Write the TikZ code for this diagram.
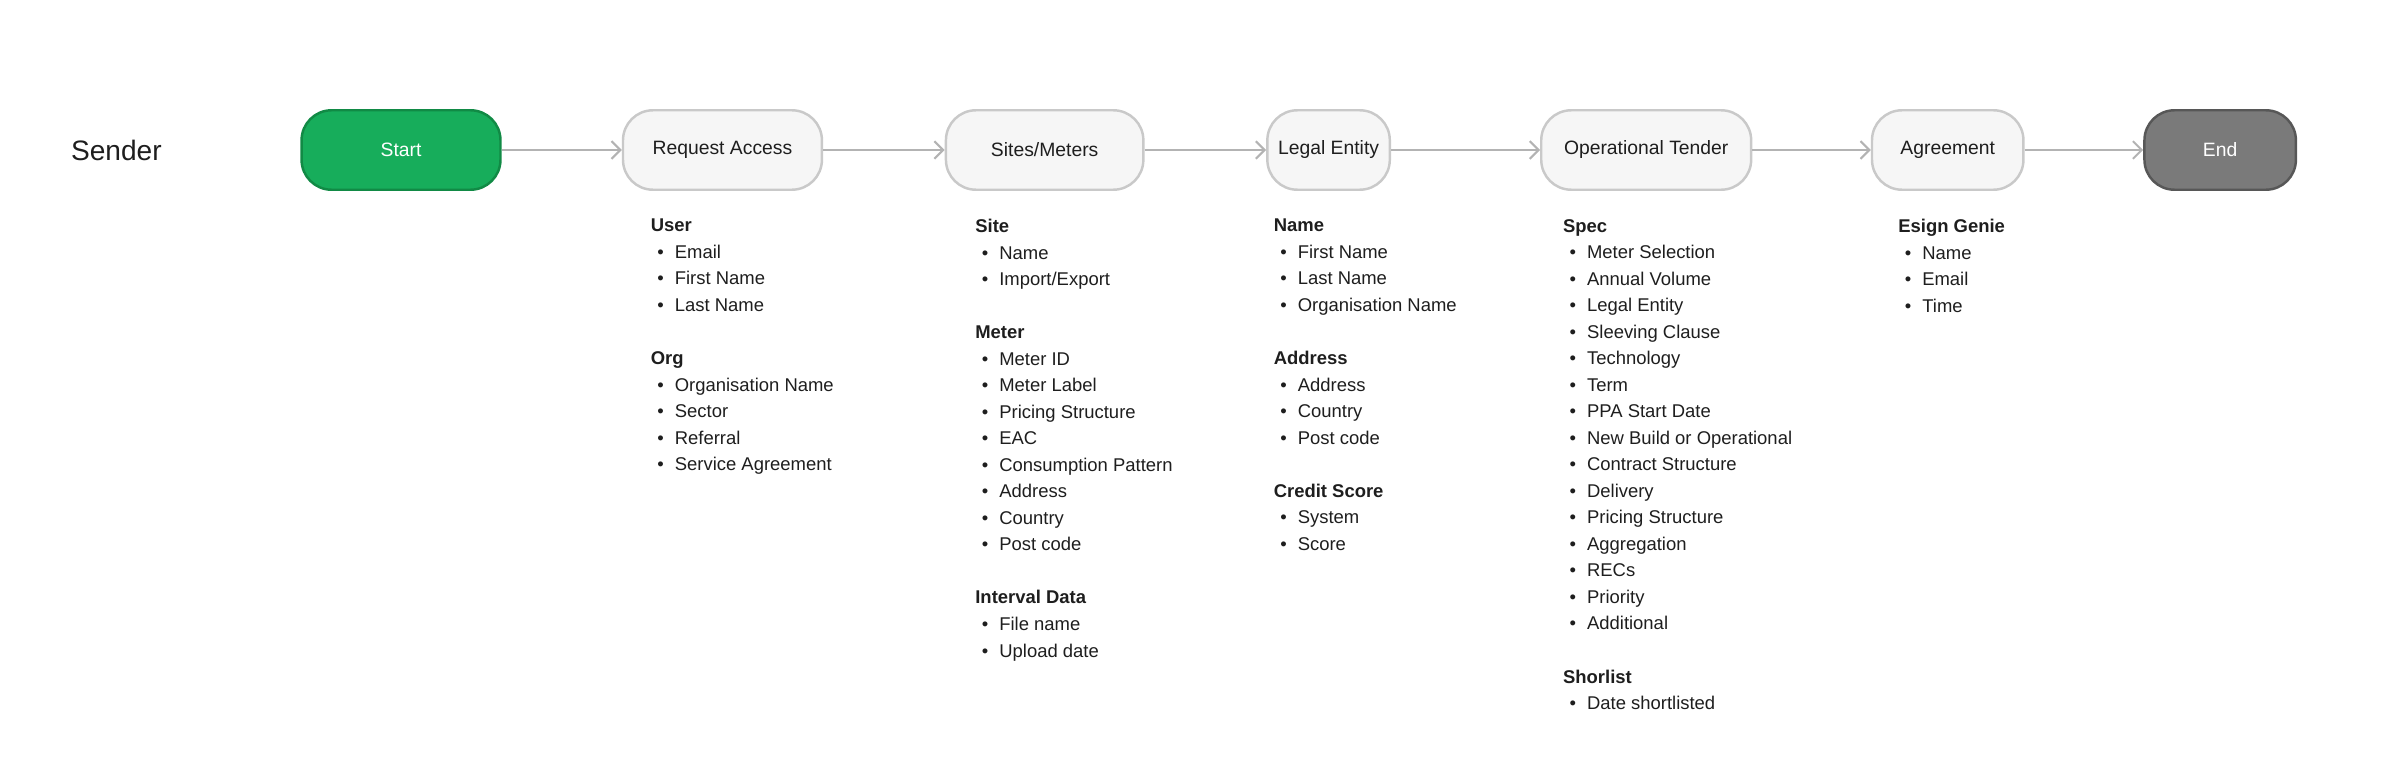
\documentclass[tikz,border=0pt]{standalone}
\usepackage{fontspec}
\setmainfont{Liberation Sans}
\usetikzlibrary{arrows.meta}
\definecolor{startgreen}{HTML}{17AD5B}
\definecolor{startedge}{HTML}{118A45}
\definecolor{stepfill}{HTML}{F6F6F6}
\definecolor{stepedge}{HTML}{C9C9C9}
\definecolor{endfill}{HTML}{7A7A7A}
\definecolor{endedge}{HTML}{575757}
\definecolor{flowgray}{HTML}{B3B3B3}
\definecolor{txt}{HTML}{1E1E1E}
\newcommand{\itm}[1]{\hspace*{0.35em}\textbullet\hspace{0.6em}#1}
\tikzset{
  stepbox/.style={rectangle, rounded corners=0.6cm, draw=stepedge, fill=stepfill, line width=1.4pt,
    minimum height=1.59cm, font=\fontsize{11}{13}\selectfont, text=txt},
  startbox/.style={stepbox, draw=startedge, fill=startgreen, text=white},
  stopbox/.style={stepbox, draw=endedge, fill=endfill, text=white},
  flow/.style={draw=flowgray, line width=1.2pt, -{Straight Barb[length=5pt,width=10pt]}},
  info/.style={anchor=north west, align=left, inner sep=0pt, text=txt,
    font=\fontsize{10.5}{15.1}\selectfont}
}
\begin{document}
\begin{tikzpicture}[x=0.03062cm,y=-0.03062cm]
\useasboundingbox (0,0) rectangle (1568,495);
% row label
\node[text=txt, font=\fontsize{16}{18}\selectfont] (sender) at (76,98) {Sender};
% steps
\node[startbox, minimum width=3.98cm] (start) at (262,98) {Start};
\node[stepbox, minimum width=3.98cm] (req) at (472,98) {Request Access};
\node[stepbox, minimum width=3.95cm] (sites) at (682.5,98) {Sites/Meters};
\node[stepbox, minimum width=2.45cm] (legal) at (868,98) {Legal Entity};
\node[stepbox, minimum width=4.2cm] (tender) at (1075.5,98) {Operational Tender};
\node[stepbox, minimum width=3.03cm] (agree) at (1272.5,98) {Agreement};
\node[stopbox, minimum width=3.03cm] (end) at (1450.5,98) {End};
% connectors
\draw[flow] (start) -- (req);
\draw[flow] (req) -- (sites);
\draw[flow] (sites) -- (legal);
\draw[flow] (legal) -- (tender);
\draw[flow] (tender) -- (agree);
\draw[flow] (agree) -- (end);
% field lists
\node[info] (reqinfo) at (425,143) {\textbf{User}\\ \itm{Email}\\ \itm{First Name}\\ \itm{Last Name}\\[15.1pt]
  \textbf{Org}\\ \itm{Organisation Name}\\ \itm{Sector}\\ \itm{Referral}\\ \itm{Service Agreement}};
\node[info] (sitesinfo) at (637,143) {\textbf{Site}\\ \itm{Name}\\ \itm{Import/Export}\\[15.1pt]
  \textbf{Meter}\\ \itm{Meter ID}\\ \itm{Meter Label}\\ \itm{Pricing Structure}\\ \itm{EAC}\\ \itm{Consumption Pattern}\\ \itm{Address}\\ \itm{Country}\\ \itm{Post code}\\[15.1pt]
  \textbf{Interval Data}\\ \itm{File name}\\ \itm{Upload date}};
\node[info] (legalinfo) at (832,143) {\textbf{Name}\\ \itm{First Name}\\ \itm{Last Name}\\ \itm{Organisation Name}\\[15.1pt]
  \textbf{Address}\\ \itm{Address}\\ \itm{Country}\\ \itm{Post code}\\[15.1pt]
  \textbf{Credit Score}\\ \itm{System}\\ \itm{Score}};
\node[info] (tenderinfo) at (1021,143) {\textbf{Spec}\\ \itm{Meter Selection}\\ \itm{Annual Volume}\\ \itm{Legal Entity}\\ \itm{Sleeving Clause}\\ \itm{Technology}\\ \itm{Term}\\ \itm{PPA Start Date}\\ \itm{New Build or Operational}\\ \itm{Contract Structure}\\ \itm{Delivery}\\ \itm{Pricing Structure}\\ \itm{Aggregation}\\ \itm{RECs}\\ \itm{Priority}\\ \itm{Additional}\\[15.1pt]
  \textbf{Shorlist}\\ \itm{Date shortlisted}};
\node[info] (agreeinfo) at (1240,143) {\textbf{Esign Genie}\\ \itm{Name}\\ \itm{Email}\\ \itm{Time}};
\end{tikzpicture}
\end{document}
